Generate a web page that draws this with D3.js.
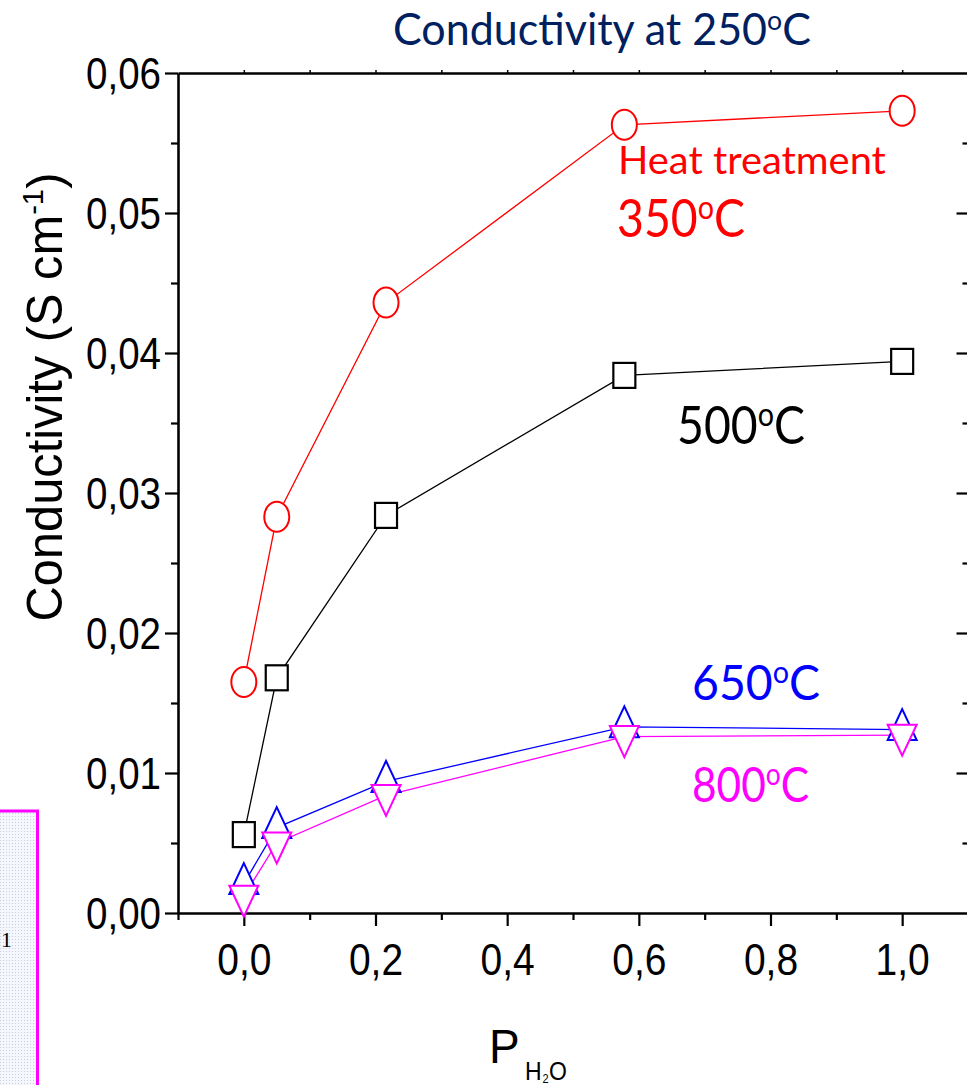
<!DOCTYPE html>
<html>
<head>
<meta charset="utf-8">
<script src="https://cdnjs.cloudflare.com/ajax/libs/d3/7.8.5/d3.min.js"></script>
<style>
  html, body { margin: 0; padding: 0; background: #fff; }
  svg { display: block; }
</style>
</head>
<body>
<svg id="chart" width="967" height="1085"></svg>
<script>
// ---------------- data ----------------
const pH2O = [0, 0.05, 0.216, 0.578, 1.0];
const cond350 = [0.0165, 0.0283, 0.0436, 0.0563, 0.0573];
const cond500 = [0.0056, 0.0168, 0.0284, 0.0384, 0.0394];
const cond650 = [0.0021, 0.0061, 0.0094, 0.0133, 0.0131];
const cond800 = [0.0012, 0.0050, 0.0084, 0.0126, 0.0127];
const xMajorTicks = [0, 0.2, 0.4, 0.6, 0.8, 1.0];
const xMinorTicks = [-0.1, 0.1, 0.3, 0.5, 0.7, 0.9];
const yMajorTicks = [0, 0.01, 0.02, 0.03, 0.04, 0.05, 0.06];
const yMinorTicks = [0.005, 0.015, 0.025, 0.035, 0.045, 0.055];
const titleText = "Conductivity at 250";
const treatmentLabel = "Heat treatment";
const seriesLabels = ["350", "500", "650", "800"];

// ---------------- setup ----------------
const svg = d3.select("#chart");
const x = d3.scaleLinear().domain([-0.1, 1.1]).range([178, 968]);
const y = d3.scaleLinear().domain([0, 0.06]).range([913, 73]);
const fmt = (n, d) => d3.format("." + d + "f")(n).replace(".", ",");
const AX = "Liberation Sans, Arial, sans-serif";
const CAL = "Lato, Carlito, Calibri, sans-serif";

// fitted label helper
function label(parent, parts, o) {
  const g = parent.append("g");
  const t = g.append("text").attr("font-family", o.family).attr("font-size", 100)
    .attr("fill", o.color);
  let shift = 0;
  parts.forEach(p => {
    const ts = t.append("tspan").text(p.t);
    const s = p.sup ? -(o.supShift || 34) : 0;
    ts.attr("dy", s - shift);
    shift = s;
    if (p.sup) ts.attr("font-size", 100 * (o.supSize || 0.62));
  });
  const w = t.node().getBBox().width;
  const k = o.width / w;
  const sy = o.capH / ((o.capRatio || 0.716) * 100 * k);
  const x0 = o.anchor === "middle" ? -w / 2 : o.anchor === "end" ? -w : 0;
  t.attr("x", x0);
  g.attr("transform", `translate(${o.x},${o.y}) rotate(${o.rotate || 0}) scale(${k},${k * sy})`);
  return g;
}

// ---------------- magenta box artifact at left ----------------
const defs = svg.append("defs");
const pat = defs.append("pattern").attr("id", "dots").attr("width", 3).attr("height", 3)
  .attr("patternUnits", "userSpaceOnUse");
pat.append("rect").attr("width", 3).attr("height", 3).attr("fill", "#f5f7fc");
pat.append("rect").attr("width", 1).attr("height", 1).attr("fill", "#c3cfe8");
svg.append("rect").attr("x", -4).attr("y", 811).attr("width", 41.5).attr("height", 300)
  .attr("fill", "url(#dots)").attr("stroke", "#ff00ff").attr("stroke-width", 3);
svg.append("text").attr("x", 1).attr("y", 947).attr("font-family", "Liberation Serif, serif")
  .attr("font-size", 22).attr("fill", "#000").text("1");

// ---------------- axes ----------------
function styleAxis(g) {
  g.select(".domain").attr("stroke", "#000").attr("stroke-width", 2.6);
  g.selectAll(".tick line").attr("stroke", "#000").attr("stroke-width", 2.2);
}
// bottom
const gxB = svg.append("g").attr("transform", `translate(0,${y(0)})`)
  .call(d3.axisBottom(x).tickValues(xMajorTicks).tickSize(13).tickSizeOuter(0)
    .tickFormat(d => fmt(d, 1)));
styleAxis(gxB);
gxB.selectAll("text").attr("y", null).attr("dy", null)
  .attr("font-family", AX).attr("font-size", 39).attr("fill", "#000")
  .attr("transform", "translate(0,62) scale(1,1.15)");
const gxBm = svg.append("g").attr("transform", `translate(0,${y(0)})`)
  .call(d3.axisBottom(x).tickValues(xMinorTicks).tickSize(7).tickSizeOuter(0).tickFormat(""));
styleAxis(gxBm);
gxBm.select(".domain").remove();
// top
const gxT = svg.append("g").attr("transform", `translate(0,${y(0.06)})`)
  .call(d3.axisTop(x).tickValues(xMajorTicks.concat(xMinorTicks.slice(1))).tickSize(3)
    .tickSizeOuter(0).tickFormat(""));
styleAxis(gxT);
gxT.selectAll(".tick line").attr("stroke-width", 1.5);
// left
const gyL = svg.append("g").attr("transform", `translate(${x(-0.1)},0)`)
  .call(d3.axisLeft(y).tickValues(yMajorTicks).tickSize(13).tickSizeOuter(0)
    .tickFormat(d => fmt(d, 2)));
styleAxis(gyL);
gyL.selectAll("text").attr("x", null).attr("dy", null).attr("text-anchor", "end")
  .attr("font-family", AX).attr("font-size", 38.5).attr("fill", "#000")
  .attr("transform", "translate(-17,15.5) scale(1,1.16)");
const gyLm = svg.append("g").attr("transform", `translate(${x(-0.1)},0)`)
  .call(d3.axisLeft(y).tickValues(yMinorTicks).tickSize(7).tickSizeOuter(0).tickFormat(""));
styleAxis(gyLm);
gyLm.select(".domain").remove();
// right (axis line just outside the frame, ticks pointing inward)
const gyR = svg.append("g").attr("transform", `translate(969.5,0)`)
  .call(d3.axisRight(y).tickValues(yMajorTicks.slice(1, 6)).tickSize(-13).tickSizeOuter(0).tickFormat(""));
styleAxis(gyR);
const gyRm = svg.append("g").attr("transform", `translate(969.5,0)`)
  .call(d3.axisRight(y).tickValues(yMinorTicks).tickSize(-7).tickSizeOuter(0).tickFormat(""));
styleAxis(gyRm);
gyRm.select(".domain").remove();

// ---------------- series ----------------
const series = [
  { vals: cond350, color: "#ff0000", sym: "circle" },
  { vals: cond500, color: "#000000", sym: "square" },
  { vals: cond650, color: "#0000ff", sym: "up" },
  { vals: cond800, color: "#ff00ff", sym: "down" }
];
const line = d3.line().x(d => x(d[0])).y(d => y(d[1]));
series.forEach(s => {
  s.pts = pH2O.map((p, i) => [p, s.vals[i]]);
  svg.append("path").datum(s.pts).attr("d", line).attr("fill", "none")
    .attr("stroke", s.color).attr("stroke-width", 1.3);
});
series.forEach(s => {
  const g = svg.append("g");
  s.pts.forEach(d => {
    const cx = x(d[0]), cy = y(d[1]);
    if (s.sym === "circle") {
      g.append("ellipse").attr("cx", cx).attr("cy", cy).attr("rx", 12.5).attr("ry", 15)
        .attr("fill", "#fff").attr("stroke", s.color).attr("stroke-width", 2);
    } else if (s.sym === "square") {
      g.append("rect").attr("x", cx - 11).attr("y", cy - 12.5).attr("width", 22).attr("height", 25)
        .attr("fill", "#fff").attr("stroke", s.color).attr("stroke-width", 2.2);
    } else if (s.sym === "up") {
      g.append("path").attr("d", `M${cx},${cy - 20.5}L${cx + 14.5},${cy + 10.5}L${cx - 14.5},${cy + 10.5}Z`)
        .attr("fill", "#fff").attr("stroke", s.color).attr("stroke-width", 2);
    } else {
      g.append("path").attr("d", `M${cx},${cy + 20.5}L${cx + 14.5},${cy - 10.5}L${cx - 14.5},${cy - 10.5}Z`)
        .attr("fill", "#fff").attr("stroke", s.color).attr("stroke-width", 2);
    }
  });
});

// ---------------- texts ----------------
label(svg, [{ t: titleText }, { t: "o", sup: true }, { t: "C" }],
  { family: CAL, color: "#002060", x: 393, y: 45, width: 418, capH: 32 });
label(svg, [{ t: treatmentLabel }],
  { family: CAL, color: "#ff0000", x: 618, y: 174, width: 268, capH: 27 });
const annot = [
  { t: seriesLabels[0], color: "#ff0000", x: 617, y: 237, w: 128, h: 37 },
  { t: seriesLabels[1], color: "#000000", x: 677, y: 444, w: 128, h: 37 },
  { t: seriesLabels[2], color: "#0000ff", x: 692, y: 700, w: 128, h: 35 },
  { t: seriesLabels[3], color: "#ff00ff", x: 692, y: 802, w: 117, h: 35 }
];
annot.forEach(a => label(svg, [{ t: a.t }, { t: "o", sup: true }, { t: "C" }],
  { family: CAL, color: a.color, x: a.x, y: a.y, width: a.w, capH: a.h }));

// y-axis title
label(svg, [{ t: "Conductivity (S cm" }, { t: "-1", sup: true }, { t: ")" }],
  { family: AX, color: "#000", x: 62, y: 397, anchor: "middle", rotate: -90, width: 449, capH: 36,
    supSize: 0.6, supShift: 38 });

// x-axis title: P with subscript H2O
svg.append("text").attr("font-family", AX).attr("font-size", 46).attr("fill", "#000")
  .attr("transform", "translate(489,1063) scale(1,1.05)").text("P");
svg.append("text").attr("font-family", AX).attr("font-size", 23).attr("fill", "#000")
  .attr("transform", "translate(525,1080) scale(1,1.15)").text("H");
svg.append("text").attr("font-family", AX).attr("font-size", 11).attr("fill", "#000")
  .attr("transform", "translate(542.5,1083) scale(1,1.1)").text("2");
svg.append("text").attr("font-family", AX).attr("font-size", 23).attr("fill", "#000")
  .attr("transform", "translate(549,1080) scale(1,1.15)").text("O");
</script>
</body>
</html>
